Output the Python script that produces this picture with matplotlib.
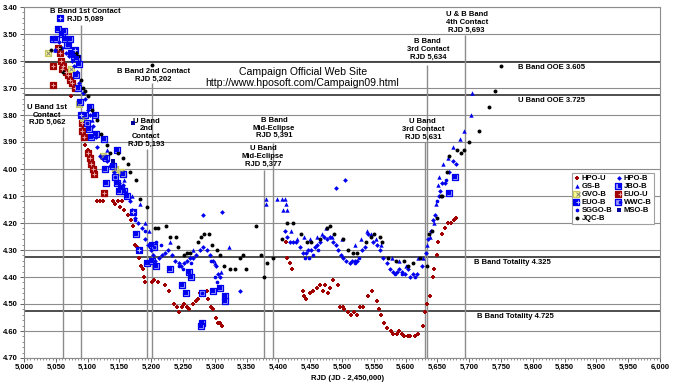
import matplotlib
matplotlib.use("Agg")
import matplotlib.pyplot as plt
from matplotlib.ticker import MultipleLocator, FuncFormatter
from matplotlib.legend_handler import HandlerTuple

plt.rcParams["font.family"] = ["Liberation Sans", "DejaVu Sans"]
plt.rcParams["font.weight"] = "bold"

# ---- data (RJD, magnitude) ----
jqc_b_x = [5042, 5057, 5061, 5082, 5085, 5089, 5093, 5096, 5101, 5107, 5115, 5121, 5131, 5135, 5148,
           5156, 5163, 5167, 5176, 5182, 5193, 5201, 5206, 5211, 5223, 5230, 5239, 5242, 5252, 5257,
           5261, 5274, 5278, 5283, 5291, 5296, 5303, 5308, 5314, 5324, 5332, 5340, 5345, 5349, 5365,
           5373, 5378, 5382, 5392, 5405, 5413, 5423, 5435, 5445, 5452, 5465, 5476, 5481, 5487, 5501,
           5509, 5517, 5524, 5537, 5546, 5551, 5560, 5563, 5572, 5585, 5597, 5604, 5611, 5622, 5633,
           5637, 5641, 5649, 5655, 5657, 5665, 5669, 5681, 5687, 5692, 5700, 5715, 5731, 5741, 5750]
jqc_b_y = [3.56, 3.55, 3.64, 3.57, 3.58, 3.67, 3.70, 3.71, 3.73, 3.78, 3.82, 3.87, 3.91, 3.94, 3.94,
           3.96, 3.98, 4.01, 4.04, 4.11, 4.14, 3.615, 4.22, 4.22, 4.21, 4.25, 4.25, 4.29, 4.32, 4.31,
           4.31, 4.27, 4.25, 4.24, 4.24, 4.28, 4.30, 4.32, 4.36, 4.37, 4.37, 4.33, 4.32, 4.37, 4.21,
           4.32, 4.40, 4.35, 4.33, 4.26, 4.20, 4.20, 4.24, 4.27, 4.27, 4.26, 4.22, 4.21, 4.24, 4.26,
           4.30, 4.31, 4.31, 4.27, 4.25, 4.24, 4.25, 4.27, 4.33, 4.34, 4.34, 4.36, 4.35, 4.33, 4.36,
           4.24, 4.23, 4.18, 4.10, 4.10, 4.01, 3.95, 3.93, 3.94, 3.93, 3.90, 3.86, 3.77, 3.71, 3.62]

hpo_u_x = [5074, 5086, 5092, 5096, 5100, 5106, 5114, 5119, 5124, 5140, 5143, 5148, 5151, 5154, 5157,
           5163, 5168, 5171, 5174, 5178, 5181, 5184, 5187, 5189, 5191, 5201, 5204, 5211, 5222, 5228,
           5236, 5241, 5244, 5248, 5252, 5256, 5260, 5266, 5270, 5274, 5277, 5281, 5287, 5290, 5294,
           5297, 5302, 5305, 5308, 5312,
           5412, 5413, 5418, 5422, 5439, 5441, 5444, 5449, 5454, 5460, 5465, 5470, 5473, 5478, 5481,
           5486, 5494, 5497, 5501, 5503, 5509, 5514, 5519, 5523, 5528, 5533, 5541, 5547, 5555, 5558,
           5561, 5566, 5570, 5577, 5580, 5586, 5589, 5595, 5598, 5603, 5607, 5614, 5620, 5627, 5630,
           5633, 5638, 5643, 5645, 5649, 5651, 5657, 5662, 5667, 5672, 5676, 5680]
hpo_u_y = [3.73, 3.76, 3.85, 3.91, 3.93, 3.97, 4.12, 4.12, 4.12, 4.12, 4.13, 4.12, 4.14, 4.12, 4.15,
           4.17, 4.19, 4.21, 4.28, 4.29, 4.33, 4.36, 4.37, 4.40, 4.42, 4.42, 4.41, 4.42, 4.43, 4.45,
           4.50, 4.51, 4.53, 4.51, 4.50, 4.51, 4.52, 4.50, 4.49, 4.48, 4.46, 4.46, 4.45, 4.48, 4.51,
           4.52, 4.55, 4.57, 4.57, 4.58,
           4.27, 4.33, 4.35, 4.37, 4.45, 4.47, 4.48, 4.46, 4.45, 4.44, 4.43, 4.45, 4.43, 4.46, 4.44,
           4.41, 4.43, 4.51, 4.51, 4.52, 4.53, 4.54, 4.53, 4.54, 4.51, 4.51, 4.47, 4.45, 4.49, 4.52,
           4.54, 4.57, 4.59, 4.60, 4.61, 4.61, 4.60, 4.61, 4.62, 4.62, 4.62, 4.62, 4.61, 4.58, 4.53,
           4.50, 4.47, 4.40, 4.37, 4.32, 4.27, 4.24, 4.22, 4.20, 4.20, 4.19, 4.18]

euo_u_x = [5046, 5046, 5054, 5056, 5058, 5060, 5062, 5066, 5069, 5072, 5076, 5080, 5091, 5091, 5094,
           5100, 5103, 5105, 5108, 5110, 5126]
euo_u_y = [3.62, 3.69, 3.55, 3.57, 3.60, 3.63, 3.62, 3.64, 3.65, 3.67, 3.68, 3.70, 3.83, 3.86, 3.88,
           3.94, 3.96, 3.98, 4.00, 4.02, 4.09]

gvo_b_x = [5038, 5074, 5086, 5093, 5124, 5143, 5153, 5156]
gvo_b_y = [3.57, 3.63, 3.76, 3.81, 3.95, 4.00, 4.01, 4.02]

jbo_b_x = [5046, 5050, 5053, 5059, 5063, 5065, 5069, 5072, 5074, 5078, 5083, 5086, 5082, 5085, 5088,
           5096, 5104, 5112, 5102, 5105, 5113, 5126, 5146, 5129, 5140, 5146, 5152, 5157, 5129, 5127,
           5156, 5150, 5162, 5176, 5194, 5201, 5201, 5208, 5230, 5248, 5254, 5259, 5262, 5280, 5279,
           5297, 5308, 5316, 5316, 5668, 5677]
jbo_b_y = [3.52, 3.52, 3.48, 3.50, 3.49, 3.52, 3.54, 3.52, 3.57, 3.58, 3.59, 3.61, 3.65, 3.70, 3.75,
           3.80, 3.77, 3.80, 3.85, 3.88, 3.87, 3.89, 3.93, 3.96, 3.99, 4.05, 4.07, 4.08, 4.05, 4.00,
           4.02, 4.08, 4.10, 4.24, 4.35, 4.34, 4.28, 4.36, 4.37, 4.43, 4.46, 4.38, 4.40, 4.57, 4.58,
           4.45, 4.44, 4.47, 4.49, 4.09, 4.03]

euo_b_x = [5056, 5080, 5089, 5171, 5181]
euo_b_y = [3.44, 3.56, 3.80, 4.16, 4.30]

wwc_b_x = [5067, 5099, 5143, 5204, 5280]
wwc_b_y = [3.54, 3.83, 4.03, 4.29, 4.46]

mso_b_x = [5171, 5140]
mso_b_y = [3.83, 3.97]

hpo_b_x = [5049, 5055, 5060, 5066, 5070, 5075, 5079, 5084, 5087, 5092, 5096, 5100, 5104, 5108, 5113,
           5115, 5120, 5123, 5130, 5136, 5141, 5149, 5155, 5160, 5166, 5170, 5174, 5180, 5185, 5190,
           5195, 5199, 5203, 5206, 5212, 5217, 5222, 5227, 5233, 5238, 5243, 5247, 5252, 5256, 5261,
           5266, 5271, 5276, 5281, 5287, 5292, 5297, 5302, 5305, 5308, 5281, 5311, 5340,
           5410, 5413, 5418, 5423, 5428, 5434, 5439, 5443, 5446, 5451, 5457, 5461, 5465, 5471, 5477,
           5481, 5486, 5490, 5494, 5498, 5501, 5507, 5512, 5516, 5520, 5524, 5531, 5536, 5541, 5549,
           5555, 5560, 5565, 5570, 5575, 5580, 5586, 5590, 5594, 5599, 5603, 5607, 5611, 5618, 5625,
           5632, 5635, 5640, 5643, 5646, 5654, 5657, 5662, 5669, 5674, 5680, 5653, 5491, 5504]
hpo_b_y = [3.56, 3.53, 3.55, 3.57, 3.58, 3.60, 3.62, 3.64, 3.68, 3.72, 3.74, 3.78, 3.80, 3.84, 3.88,
           3.92, 3.95, 3.96, 3.97, 3.99, 4.01, 4.05, 4.06, 4.09, 4.12, 4.15, 4.18, 4.20, 4.22, 4.26,
           4.28, 4.30, 4.32, 4.34, 4.33, 4.32, 4.31, 4.30, 4.32, 4.34, 4.35, 4.36, 4.35, 4.34, 4.33,
           4.33, 4.32, 4.30, 4.29, 4.30, 4.32, 4.34, 4.36, 4.39, 4.40, 4.17, 4.16, 4.45,
           4.23, 4.25, 4.27, 4.27, 4.27, 4.29, 4.31, 4.31, 4.30, 4.30, 4.29, 4.28, 4.27, 4.25, 4.26,
           4.25, 4.27, 4.28, 4.30, 4.32, 4.33, 4.34, 4.35, 4.34, 4.34, 4.34, 4.30, 4.29, 4.24, 4.27,
           4.28, 4.30, 4.33, 4.35, 4.37, 4.38, 4.38, 4.37, 4.38, 4.39, 4.37, 4.40, 4.39, 4.39, 4.36,
           4.31, 4.26, 4.23, 4.19, 4.17, 4.08, 4.05, 4.05, 4.01, 3.97, 3.98, 4.10, 4.07, 4.04]

sggo_b_x = [5160, 5175, 5190, 5207, 5215, 5244, 5250, 5263, 5294, 5300, 5304, 5442, 5448, 5455, 5463,
            5520, 5527, 5583, 5595, 5615, 5650, 5664]
sggo_b_y = [4.10, 4.19, 4.23, 4.27, 4.28, 4.36, 4.37, 4.35, 4.34, 4.40, 4.42, 4.33, 4.33, 4.32, 4.30,
            4.35, 4.33, 4.39, 4.39, 4.40, 4.12, 4.04]

gs_b_x = [5049, 5085, 5107, 5130, 5158, 5170, 5183, 5190, 5196, 5230, 5265, 5300, 5310, 5322, 5380,
          5380, 5398, 5405, 5410, 5412, 5414, 5407, 5420, 5430, 5440, 5450, 5460, 5468, 5475, 5485,
          5500, 5520, 5530, 5540, 5545, 5553, 5562, 5578, 5590, 5600, 5620, 5627, 5633, 5638, 5645,
          5648, 5651, 5653, 5659, 5667, 5674, 5686, 5692, 5703, 5704]
gs_b_y = [3.56, 3.60, 3.82, 3.93, 4.04, 4.10, 4.13, 4.20, 4.23, 4.27, 4.30, 4.35, 4.38, 4.29, 4.11,
          4.13, 4.11, 4.11, 4.11, 4.13, 4.15, 4.15, 4.23, 4.26, 4.25, 4.26, 4.25, 4.24, 4.22, 4.25,
          4.26, 4.28, 4.26, 4.23, 4.24, 4.26, 4.28, 4.33, 4.34, 4.36, 4.33, 4.33, 4.28, 4.25, 4.20,
          4.13, 4.06, 4.03, 3.98, 3.96, 3.92, 3.89, 3.86, 3.80, 3.72]

# reference levels and contact times
level_values = [3.605, 3.725, 4.325, 4.525]
level_labels = ["B Band OOE 3.605", "U Band OOE 3.725", "B Band Totality 4.325", "B Band Totality 4.725"]
contact_rjd = [5062, 5089, 5193, 5202, 5377, 5391, 5631, 5634, 5693]
contact_labels = ["U Band 1st\nContact\nRJD 5,062", "B Band 1st Contact\nRJD 5,089",
                  "U Band\n2nd\nContact\nRJD 5,193", "B Band 2nd Contact\nRJD 5,202",
                  "U Band\nMid-Eclipse\nRJD 5,377", "B Band\nMid-Eclipse\nRJD 5,391",
                  "U Band\n3rd Contact\nRJD 5,631", "B Band\n3rd Contact\nRJD 5,634",
                  "U & B Band\n4th Contact\nRJD 5,693"]

BLUE = "#0000ee"
RED = "#a00000"
FS = 5.5

fig = plt.figure(figsize=(6.76, 3.86), dpi=100)
ax = fig.add_axes([24 / 676, 1 - 358 / 386, 636 / 676, 351 / 386])
ax.set_xlim(5000, 6000)
ax.set_ylim(4.70, 3.40)

ax.xaxis.set_major_locator(MultipleLocator(50))
ax.xaxis.set_minor_locator(MultipleLocator(5))
ax.yaxis.set_major_locator(MultipleLocator(0.1))
ax.yaxis.set_minor_locator(MultipleLocator(0.02))
ax.xaxis.set_major_formatter(FuncFormatter(lambda v, p: f"{v:,.0f}"))
ax.yaxis.set_major_formatter(FuncFormatter(lambda v, p: f"{v:.2f}"))
ax.tick_params(axis="both", which="major", labelsize=FS, length=3, width=0.7, color="#606060", pad=1.5)
ax.tick_params(axis="both", which="minor", length=1.5, width=0.5, color="#606060")
for lab in ax.get_xticklabels() + ax.get_yticklabels():
    lab.set_fontweight("bold")
ax.grid(axis="y", which="major", color="#8c8c8c", linewidth=0.8)
ax.set_axisbelow(True)
for sp in ax.spines.values():
    sp.set_color("#8c8c8c")
    sp.set_linewidth(0.8)
ax.set_xlabel("RJD (JD - 2,450,000)", fontsize=FS, fontweight="bold", labelpad=2)
ax.xaxis.set_label_coords(0.508, -0.048)

# reference levels
for lv in level_values:
    ax.axhline(lv, color="#404040", linewidth=1.3, zorder=1)
ax.text(5777, 3.623, level_labels[0], fontsize=FS, fontweight="bold", va="center")
ax.text(5777, 3.747, level_labels[1], fontsize=FS, fontweight="bold", va="center")
ax.text(5707, 4.348, level_labels[2], fontsize=FS, fontweight="bold", va="center")
ax.text(5713, 4.546, level_labels[3], fontsize=FS, fontweight="bold", va="center")

# contact lines with labels: (label centre x, label bottom, line top)
label_pos = [(5036, 3.842, 3.845), (5096, 3.457, 3.467), (5192, 3.922, 3.925), (5203, 3.681, 3.68),
             (5376, 3.996, 4.003), (5393, 3.890, 3.903), (5627, 3.894, 3.90), (5635, 3.598, 3.615),
             (5696, 3.499, 3.504)]
for rjd, lab, (tx, ty, top) in zip(contact_rjd, contact_labels, label_pos):
    ax.vlines(rjd, top, 4.70, color="#8c8c8c", linewidth=1.0, zorder=1)
    ax.text(tx, ty, lab, fontsize=FS, fontweight="bold", ha="center", va="bottom", linespacing=1.15)

ax.text(5438, 3.640, "Campaign Official Web Site", fontsize=7.6, fontweight="normal",
        ha="center", va="center")
ax.text(5438, 3.681, "http://www.hposoft.com/Campaign09.html", fontsize=7.6, fontweight="normal",
        ha="center", va="center")


def boxed(x, y, face, edge, inner_marker, inner_color, s_out=18, s_in=4, lw=0.9):
    a = ax.scatter(x, y, marker="s", s=s_out, facecolors=face, edgecolors=edge, linewidths=lw, zorder=3)
    if inner_marker in ("+", "x"):
        b = ax.scatter(x, y, marker=inner_marker, s=s_in, c=inner_color, linewidths=0.7, zorder=4)
    else:
        b = ax.scatter(x, y, marker=inner_marker, s=s_in, c=inner_color, linewidths=0, zorder=4)
    return (a, b)


h_hpo_u = ax.scatter(hpo_u_x, hpo_u_y, marker="P", s=8, c=RED, linewidths=0, zorder=3)
h_euo_u = boxed(euo_u_x, euo_u_y, RED, RED, "+", "#e8a0a0", s_out=16, s_in=10)
h_gvo_b = boxed(gvo_b_x, gvo_b_y, "#ffff90", "#c8c860", "x", "#808080", s_out=16, s_in=8)
h_jbo_b = boxed(jbo_b_x, jbo_b_y, "#9c9cff", BLUE, "s", BLUE, s_out=19, s_in=6)
h_euo_b = boxed(euo_b_x, euo_b_y, BLUE, BLUE, "+", "#c0c0ff", s_out=18, s_in=10)
h_wwc_b = boxed(wwc_b_x, wwc_b_y, "#9c9cff", BLUE, "o", BLUE, s_out=18, s_in=7)
h_mso_b = ax.scatter(mso_b_x, mso_b_y, marker="s", s=12, c="#0000a0", linewidths=0, zorder=3)
h_hpo_b = ax.scatter(hpo_b_x, hpo_b_y, marker="D", s=6, c=BLUE, linewidths=0, zorder=3)
h_sggo_b = ax.scatter(sggo_b_x, sggo_b_y, marker="o", s=7, c=BLUE, linewidths=0, zorder=3)
h_gs_b = ax.scatter(gs_b_x, gs_b_y, marker="^", s=10, c=BLUE, linewidths=0, zorder=3)
h_jqc_b = ax.scatter(jqc_b_x, jqc_b_y, marker="o", s=8, c="black", linewidths=0, zorder=3)

handles = [h_hpo_u, h_gs_b, h_gvo_b, h_euo_b, h_sggo_b, h_jqc_b,
           h_hpo_b, h_jbo_b, h_euo_u, h_wwc_b, h_mso_b]
labels = ["HPO-U", "GS-B", "GVO-B", "EUO-B", "SGGO-B", "JQC-B",
          "HPO-B", "JBO-B", "EUO-U", "WWC-B", "MSO-B"]
leg = ax.legend(handles, labels, ncol=2, loc="upper left", bbox_to_anchor=(0.862, 0.528),
                borderaxespad=0, prop={"weight": "bold", "size": FS},
                handler_map={tuple: HandlerTuple(ndivide=None, pad=0)},
                handlelength=0.6, handletextpad=0.3, columnspacing=0.6, labelspacing=0.08,
                borderpad=0.3, fancybox=False, framealpha=1, edgecolor="#a0a0a0")
leg.get_frame().set_linewidth(0.8)

fig.savefig("out.png", dpi=100)
